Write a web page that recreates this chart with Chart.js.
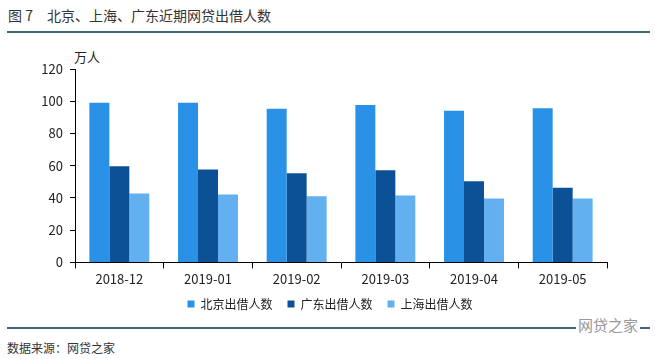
<!DOCTYPE html>
<html>
<head>
<meta charset="utf-8">
<script src="https://cdn.jsdelivr.net/npm/chart.js@4/dist/chart.umd.min.js"></script>
<style>
  body { margin: 0; background: #fff; font-family: "Noto Sans CJK SC", sans-serif; }
  #wrap { position: relative; width: 655px; height: 359px; overflow: hidden; }
  .title { position: absolute; left: 8px; top: 5px; font-size: 14px; color: #333; }
  .rule { position: absolute; left: 7px; height: 2px; background: #3e6b72; }
  .unit { position: absolute; left: 74px; top: 47px; font-size: 13px; color: #222; }
  .source { position: absolute; left: 7px; top: 339px; font-size: 12px; color: #333; }
  .mark { position: absolute; left: 576px; top: 314px; font-size: 15px; color: #999; background: #fff; padding: 0 2px; }
  #box { position: absolute; left: 0; top: 40px; width: 655px; height: 287px; }
</style>
</head>
<body>
<div id="wrap">
  <div class="title">图 7　北京、上海、广东近期网贷出借人数</div>
  <div class="rule" style="top:31px; width:643px;"></div>
  <div class="unit">万人</div>
  <div id="box"><canvas id="chart"></canvas></div>
  <div class="rule" style="top:327px; width:643px;"></div>
  <div class="source">数据来源：网贷之家</div>
  <div class="mark">网贷之家</div>
</div>
<script>
// 月份と各地域の出借人数（万人）
const months = ["2018-12", "2019-01", "2019-02", "2019-03", "2019-04", "2019-05"];
const beijing = [99.1, 99.0, 95.3, 97.7, 94.1, 95.7];
const guangdong = [59.6, 57.6, 55.3, 57.1, 50.3, 46.3];
const shanghai = [42.8, 42.2, 41.0, 41.5, 39.7, 39.7];
const yTicks = [0, 20, 40, 60, 80, 100, 120];

// 凡例の位置を微調整
const legendShift = {
    id: "legendShift",
    afterLayout(chart) {
        if (chart.legend) {
            chart.legend.left += 7;
            chart.legend.right += 7;
            chart.legend.top -= 7;
            chart.legend.bottom -= 7;
        }
    },
};

document.addEventListener("DOMContentLoaded", function () {
    const ctx = document.getElementById("chart").getContext("2d");
    new Chart(ctx, {
        type: "bar",
        data: {
            labels: months,
            datasets: [
                { label: "北京出借人数", data: beijing, backgroundColor: "#2a92e6" },
                { label: "广东出借人数", data: guangdong, backgroundColor: "#0c5096" },
                { label: "上海出借人数", data: shanghai, backgroundColor: "#62b0f0" },
            ],
        },
        plugins: [legendShift],
        options: {
            responsive: true,
            maintainAspectRatio: false,
            animation: false,
            datasets: { bar: { categoryPercentage: 0.676, barPercentage: 1.0 } },
            layout: { padding: { left: 39, right: 48, top: 29, bottom: 0 } },
            plugins: {
                legend: {
                    position: "bottom",
                    labels: {
                        boxWidth: 7, boxHeight: 7, padding: 15, color: "#222",
                        font: { size: 12, family: "Noto Sans CJK SC" },
                    },
                },
                tooltip: { enabled: false },
            },
            scales: {
                x: {
                    grid: { display: true, drawOnChartArea: false, offset: true, color: "#000", tickLength: 6 },
                    border: { color: "#000", width: 1 },
                    ticks: { color: "#222", font: { size: 13, family: "Noto Sans CJK SC" }, padding: 3 },
                },
                y: {
                    min: 0, max: 120,
                    afterFit: function (axis) { axis.width = 36; },
                    afterBuildTicks: function (axis) { axis.ticks = yTicks.map(v => ({ value: v })); },
                    grid: { display: true, drawOnChartArea: false, color: "#000", tickLength: 5 },
                    border: { color: "#000", width: 1 },
                    ticks: { color: "#222", font: { size: 13, family: "Noto Sans CJK SC" }, padding: 7 },
                },
            },
        },
    });
});
</script>
</body>
</html>
